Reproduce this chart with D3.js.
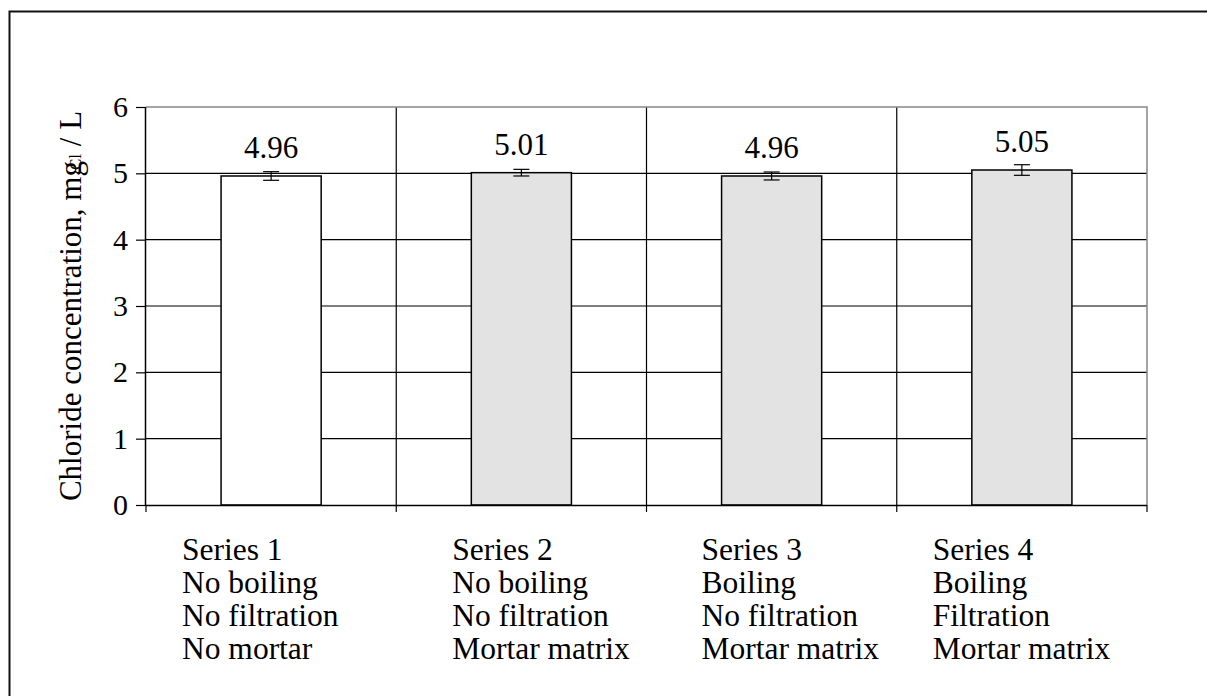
<!DOCTYPE html>
<html><head><meta charset="utf-8">
<script src="https://cdn.jsdelivr.net/npm/d3@7/dist/d3.min.js"></script>
<style>
html,body{margin:0;padding:0;background:#fff;}
svg{display:block;font-family:"Liberation Serif","Times New Roman",serif;}
svg text{font-family:"Liberation Serif","Times New Roman",serif;}
</style></head>
<body>
<svg id="chart" width="1207" height="696"></svg>
<script>
// ---- data ----
const categories = ["S1", "S2", "S3", "S4"];
const values = [4.96, 5.01, 4.96, 5.05];
const errors = [0.065, 0.05, 0.06, 0.08];
const valueLabels = ["4.96", "5.01", "4.96", "5.05"];
const categoryLines = [
  ["Series 1", "No boiling", "No filtration", "No mortar"],
  ["Series 2", "No boiling", "No filtration", "Mortar matrix"],
  ["Series 3", "Boiling", "No filtration", "Mortar matrix"],
  ["Series 4", "Boiling", "Filtration", "Mortar matrix"]
];
const barFills = ["#ffffff", "#e3e3e3", "#e3e3e3", "#e3e3e3"];
const yTicks = [0, 1, 2, 3, 4, 5, 6];

// ---- layout ----
const L = 146, R = 1147, T = 107, B = 505;
const labelOffsets = [36, 56, 55, 36];
const FONT = "Liberation Serif";

const svg = d3.select("#chart");

// outer frame (left and top only visible)
svg.append("path").attr("d", "M9.5,700 L9.5,11.5 L1210,11.5")
  .attr("fill", "none").attr("stroke", "#111").attr("stroke-width", 2);

const x = d3.scaleBand().domain(categories).range([L, R]).paddingInner(0).paddingOuter(0);
const y = d3.scaleLinear().domain([0, 6]).range([B, T]);
const bw = x.bandwidth() * 0.4;

// horizontal gridlines
svg.append("g").selectAll("line").data(yTicks.filter(d => d > 0 && d < 6)).join("line")
  .attr("x1", L).attr("x2", R).attr("y1", d => y(d)).attr("y2", d => y(d))
  .attr("stroke", "#000").attr("stroke-width", 1.2);

// vertical gridlines at category boundaries
svg.append("g").selectAll("line").data(categories.slice(1)).join("line")
  .attr("x1", d => x(d)).attr("x2", d => x(d)).attr("y1", T).attr("y2", B)
  .attr("stroke", "#000").attr("stroke-width", 1.2);

// plot border top/right gray
svg.append("path").attr("d", `M${L},${T} L${R},${T} L${R},${B}`)
  .attr("fill", "none").attr("stroke", "#888").attr("stroke-width", 1.5);

// bars
svg.append("g").selectAll("rect").data(categories).join("rect")
  .attr("x", (d) => x(d) + (x.bandwidth() - bw) / 2)
  .attr("width", bw)
  .attr("y", (d, i) => y(values[i]))
  .attr("height", (d, i) => y(0) - y(values[i]))
  .attr("fill", (d, i) => barFills[i])
  .attr("stroke", "#000").attr("stroke-width", 1.5);

// error bars
const eg = svg.append("g").attr("stroke", "#000").attr("stroke-width", 1.2);
categories.forEach((c, i) => {
  const cx = x(c) + x.bandwidth() / 2;
  const y1 = y(values[i] + errors[i]), y2 = y(values[i] - errors[i]);
  eg.append("line").attr("x1", cx).attr("x2", cx).attr("y1", y1).attr("y2", y2);
  eg.append("line").attr("x1", cx - 8).attr("x2", cx + 8).attr("y1", y1).attr("y2", y1);
  eg.append("line").attr("x1", cx - 8).attr("x2", cx + 8).attr("y1", y2).attr("y2", y2);
});

// value labels
svg.append("g").selectAll("text").data(categories).join("text")
  .attr("x", d => x(d) + x.bandwidth() / 2)
  .attr("y", (d, i) => y(values[i]) - 18)
  .attr("text-anchor", "middle").attr("font-size", 31).attr("font-family", FONT).attr("fill", "#000")
  .text((d, i) => valueLabels[i]);

// y axis
const yAxis = d3.axisLeft(y).tickValues(yTicks).tickSize(10).tickPadding(8).tickFormat(d3.format("d"));
const ya = svg.append("g").attr("transform", `translate(${L},0)`).call(yAxis)
  .attr("font-family", FONT);
ya.select(".domain").attr("stroke", "#000").attr("stroke-width", 1.5).attr("d", `M-0.5,${T}V${B}`);
ya.selectAll(".tick line").attr("stroke", "#000").attr("stroke-width", 1.2);
ya.selectAll(".tick text").attr("font-size", 30).attr("font-family", FONT).attr("fill", "#000");

// x axis
const xAxis = d3.axisBottom(x).tickSize(0).tickFormat("");
const xa = svg.append("g").attr("transform", `translate(0,${B})`).call(xAxis);
xa.select(".domain").attr("stroke", "#000").attr("stroke-width", 1.5).attr("d", `M${L},0.5H${R}`);
const bounds = categories.map(c => x(c)).concat([R]);
xa.selectAll(".bt").data(bounds).join("line").attr("class", "bt")
  .attr("x1", d => d).attr("x2", d => d).attr("y1", 0).attr("y2", 7)
  .attr("stroke", "#000").attr("stroke-width", 1.2);

// category labels
categories.forEach((c, i) => {
  const t = svg.append("text").attr("font-size", 31.5).attr("font-family", FONT).attr("fill", "#000")
    .attr("x", x(c) + labelOffsets[i]).attr("y", 560);
  categoryLines[i].forEach((line, j) => {
    t.append("tspan").attr("x", x(c) + labelOffsets[i]).attr("dy", j === 0 ? 0 : 33).text(line);
  });
});

// y axis title
const yt = svg.append("text").attr("transform", `translate(81,${(T + B) / 2}) rotate(-90)`)
  .attr("text-anchor", "middle").attr("font-size", 31).attr("font-family", FONT).attr("fill", "#000");
yt.append("tspan").text("Chloride concentration, mg");
yt.append("tspan").attr("font-size", 17).attr("dx", -9).text("Cl");
yt.append("tspan").text(" / L");
</script>
</body></html>
